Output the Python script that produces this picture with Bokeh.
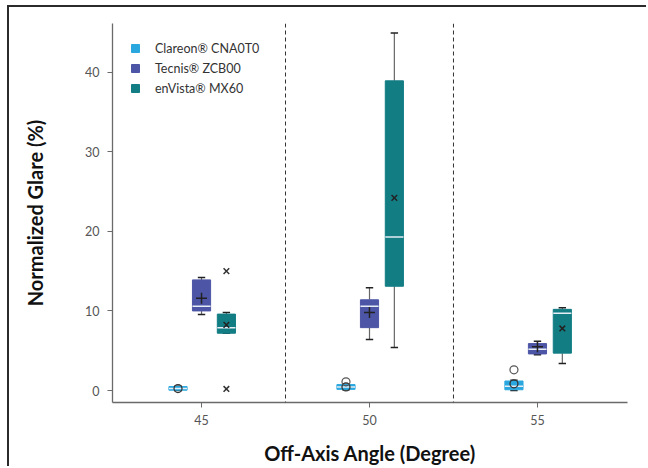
from bokeh.plotting import figure
from bokeh.models import Span, Legend, LegendItem, FixedTicker, ColumnDataSource
from bokeh.embed import file_html
from bokeh.resources import INLINE

# ---- data -------------------------------------------------------------
angles = [45, 50, 55]
tick_labels = ["45", "50", "55"]
series = ["Clareon\u00ae CNA0T0", "Tecnis\u00ae ZCB00", "enVista\u00ae MX60"]

clareon_lo = [0.0, 0.1, 0.0]
clareon_q1 = [0.05, 0.15, 0.1]
clareon_med = [0.25, 0.45, 0.55]
clareon_q3 = [0.5, 0.75, 1.2]
clareon_hi = [0.55, 0.8, 1.3]
clareon_mean = [0.25, 0.45, 0.85]
clareon_out_x = [50, 55]
clareon_out_y = [1.1, 2.6]

tecnis_lo = [9.55, 6.4, 4.5]
tecnis_q1 = [10.0, 7.9, 4.6]
tecnis_med = [10.6, 10.6, 5.2]
tecnis_q3 = [13.9, 11.4, 5.9]
tecnis_hi = [14.2, 12.9, 6.2]
tecnis_mean = [11.6, 9.8, 5.5]
tecnis_out_x = []
tecnis_out_y = []

envista_lo = [7.2, 5.4, 3.4]
envista_q1 = [7.2, 13.1, 4.7]
envista_med = [7.9, 19.3, 9.7]
envista_q3 = [9.6, 38.9, 10.2]
envista_hi = [9.8, 44.9, 10.4]
envista_mean = [8.25, 24.2, 7.8]
envista_out_x = [45, 45]
envista_out_y = [15.0, 0.2]

# ---- styling ----------------------------------------------------------
colors = ["#2aa7df", "#4d55a6", "#137d84"]
offsets = [-0.7, 0.0, 0.74]
mean_markers = ["circle", "cross", "x"]
box_w = 0.54
cap_w = 0.22
FONT = "Lato"

p = figure(width=639, height=461, output_backend="svg", toolbar_location=None,
           x_range=(42.35, 57.68), y_range=(-1.5, 46.1),
           min_border_left=103, min_border_right=21, min_border_top=16, min_border_bottom=66)
p.styles = {"margin-left": "7px", "margin-top": "5px",
            "border-left": "2px solid #2b2b2b", "border-top": "2px solid #2b2b2b"}
p.outline_line_color = None
p.xgrid.visible = False
p.ygrid.visible = False
p.background_fill_color = "white"

for xv in [47.5, 52.5]:
    p.add_layout(Span(location=xv, dimension="height", line_color="#333333",
                      line_dash="4 3", line_width=1))

all_data = [
    (clareon_lo, clareon_q1, clareon_med, clareon_q3, clareon_hi, clareon_mean, clareon_out_x, clareon_out_y),
    (tecnis_lo, tecnis_q1, tecnis_med, tecnis_q3, tecnis_hi, tecnis_mean, tecnis_out_x, tecnis_out_y),
    (envista_lo, envista_q1, envista_med, envista_q3, envista_hi, envista_mean, envista_out_x, envista_out_y),
]

legend_items = []
for i, (lo, q1, med, q3, hi, mean, ox, oy) in enumerate(all_data):
    xs = [a + offsets[i] for a in angles]
    src = ColumnDataSource(dict(x=xs, lo=lo, q1=q1, med=med, q3=q3, hi=hi, mean=mean,
                                xl=[x - cap_w / 2 for x in xs], xr=[x + cap_w / 2 for x in xs],
                                bl=[x - box_w / 2 for x in xs], br=[x + box_w / 2 for x in xs]))
    p.segment(x0="x", y0="hi", x1="x", y1="q3", source=src, line_color="#666666", line_width=1.2)
    p.segment(x0="x", y0="lo", x1="x", y1="q1", source=src, line_color="#666666", line_width=1.2)
    p.segment(x0="xl", y0="hi", x1="xr", y1="hi", source=src, line_color="#222222", line_width=1.5)
    p.segment(x0="xl", y0="lo", x1="xr", y1="lo", source=src, line_color="#222222", line_width=1.5)
    r = p.vbar(x="x", width=box_w, bottom="q1", top="q3", source=src,
               fill_color=colors[i], line_color=colors[i], line_width=1)
    p.segment(x0="bl", y0="med", x1="br", y1="med", source=src, line_color="#e6edf5", line_width=1.5)
    mk = mean_markers[i]
    if mk == "circle":
        p.scatter(x="x", y="mean", source=src, marker="circle", size=8,
                  fill_color=None, line_color="#333333", line_width=1.3)
        p.scatter(x=[a + offsets[i] for a in ox], y=oy, marker="circle", size=8,
                  fill_color=None, line_color="#555555", line_width=1.2)
    elif mk == "cross":
        p.scatter(x="x", y="mean", source=src, marker="cross", size=11,
                  line_color="#222222", line_width=1.5)
    else:
        p.scatter(x="x", y="mean", source=src, marker="x", size=8,
                  line_color="#222222", line_width=1.5)
        p.scatter(x=[a + offsets[i] for a in ox], y=oy, marker="x", size=8,
                  line_color="#333333", line_width=1.5)
    legend_items.append(LegendItem(label=series[i], renderers=[r]))

legend = Legend(items=legend_items, location=(18, 306), margin=0, padding=10,
                glyph_width=10, glyph_height=10, label_height=16, spacing=4,
                label_standoff=15, label_text_font=FONT, label_text_font_size="12.5px",
                label_text_color="#333333", border_line_color=None,
                background_fill_alpha=0)
p.add_layout(legend)

# axes
p.xaxis.ticker = FixedTicker(ticks=angles)
p.xaxis.major_label_overrides = {a: t for a, t in zip(angles, tick_labels)}
p.yaxis.ticker = FixedTicker(ticks=[0, 10, 20, 30, 40])
for ax in [p.xaxis, p.yaxis]:
    ax.axis_line_color = "#6a6a6a"
    ax.axis_line_width = 1.3
    ax.major_tick_line_color = "#6a6a6a"
    ax.major_tick_out = 5
    ax.major_tick_in = 0
    ax.minor_tick_line_color = None
    ax.major_label_text_font = FONT
    ax.major_label_text_font_size = "12.5px"
    ax.major_label_text_color = "#555555"
    ax.axis_label_text_font = FONT
    ax.axis_label_text_font_style = "bold"
    ax.axis_label_text_font_size = "20px"
    ax.axis_label_text_color = "#111111"
p.xaxis.axis_label = "Off-Axis Angle (Degree)"
p.yaxis.axis_label = "Normalized Glare (%)"
p.xaxis.major_label_standoff = 7
p.yaxis.major_label_standoff = 8
p.xaxis.axis_label_standoff = 13
p.yaxis.axis_label_standoff = 35

open("out.html", "w").write(file_html(p, INLINE))
